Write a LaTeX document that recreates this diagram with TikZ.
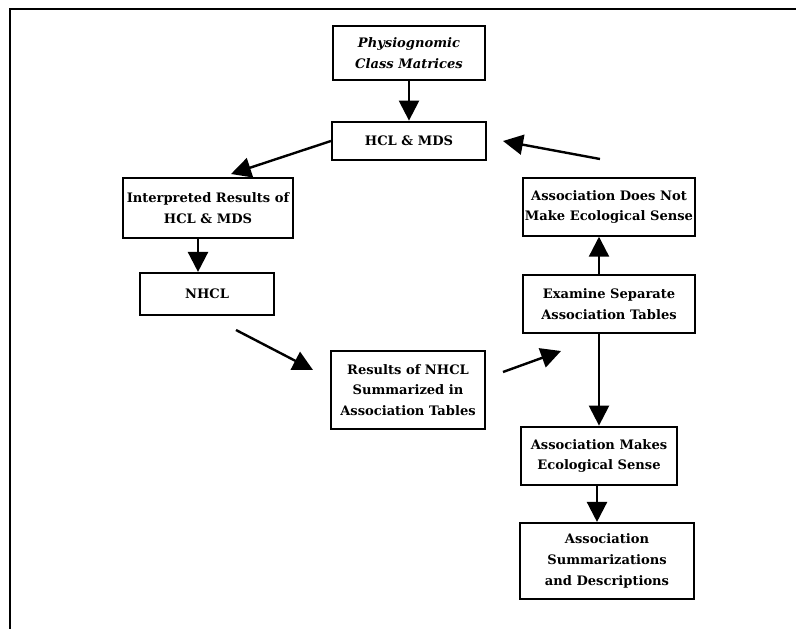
\documentclass[tikz,border=0pt]{standalone}
\usepackage{amsmath}
\usepackage{fontspec}
\setmainfont{DejaVu Serif}
\usepackage{tikz}
\usetikzlibrary{arrows.meta}

\begin{document}
\begin{tikzpicture}[x=0.75pt,y=-0.75pt]

	\tikzstyle flow boxes=[draw, line width=1.6pt, align=center, inner sep=0pt, font=\fontsize{9.8}{15.5}\selectfont\bfseries];
	\tikzstyle flow lines=[line width=1.8pt, -{Triangle[length=15pt,width=15pt]}];
	\tikzstyle frame lines=[line width=1.5pt];

	\useasboundingbox (0,0) rectangle (796,629);
	\draw[frame lines] (796,9) -- (10,9) -- (10,629);

	% boxes
	\node[flow boxes, minimum width=114pt, minimum height=40pt] (phys) at (409,53) {\itshape Physiognomic\\\itshape Class Matrices};
	\node[flow boxes, minimum width=115.5pt, minimum height=29pt] (hcl) at (409,141) {HCL \& MDS};
	\node[flow boxes, minimum width=127.5pt, minimum height=45pt] (interp) at (208,208) {Interpreted Results of\\HCL \& MDS};
	\node[flow boxes, minimum width=101pt, minimum height=31.5pt] (nhcl) at (207,294) {NHCL};
	\node[flow boxes, minimum width=115.5pt, minimum height=59pt] (results) at (408,390) {Results of NHCL\\Summarized in\\Association Tables};
	\node[flow boxes, minimum width=129pt, minimum height=43pt] (notsense) at (609,207) {Association Does Not\\Make Ecological Sense};
	\node[flow boxes, minimum width=129pt, minimum height=43.5pt] (examine) at (609,304) {Examine Separate\\Association Tables};
	\node[flow boxes, minimum width=117pt, minimum height=44pt] (sense) at (599,456) {Association Makes\\Ecological Sense};
	\node[flow boxes, minimum width=130pt, minimum height=57pt] (summ) at (607,561) {Association\\Summarizations\\and Descriptions};

	% free arrow ends
	\coordinate (hcltip) at (231,174);
	\coordinate (nhclstart) at (236,330);
	\coordinate (nhcltip) at (313,370);
	\coordinate (resstart) at (503,372);
	\coordinate (restip) at (561,351);
	\coordinate (notstart) at (600,159);
	\coordinate (nottip) at (503,141);

	% arrows
	\draw[flow lines] (phys) -- (hcl);
	\draw[flow lines] (hcl.west) -- (hcltip);
	\draw[flow lines] ([xshift=-7.5pt]interp.south) -- ([xshift=-7.5pt]interp.south |- nhcl.north);
	\draw[flow lines] (nhclstart) -- (nhcltip);
	\draw[flow lines] (resstart) -- (restip);
	\draw[flow lines] (examine.north -| 599,0) -- (notsense.south -| 599,0);
	\draw[flow lines] (notstart) -- (nottip);
	\draw[flow lines] (examine.south -| 599,0) -- (sense.north -| 599,0);
	\draw[flow lines] (sense.south -| 597,0) -- (summ.north -| 597,0);

\end{tikzpicture}
\end{document}
